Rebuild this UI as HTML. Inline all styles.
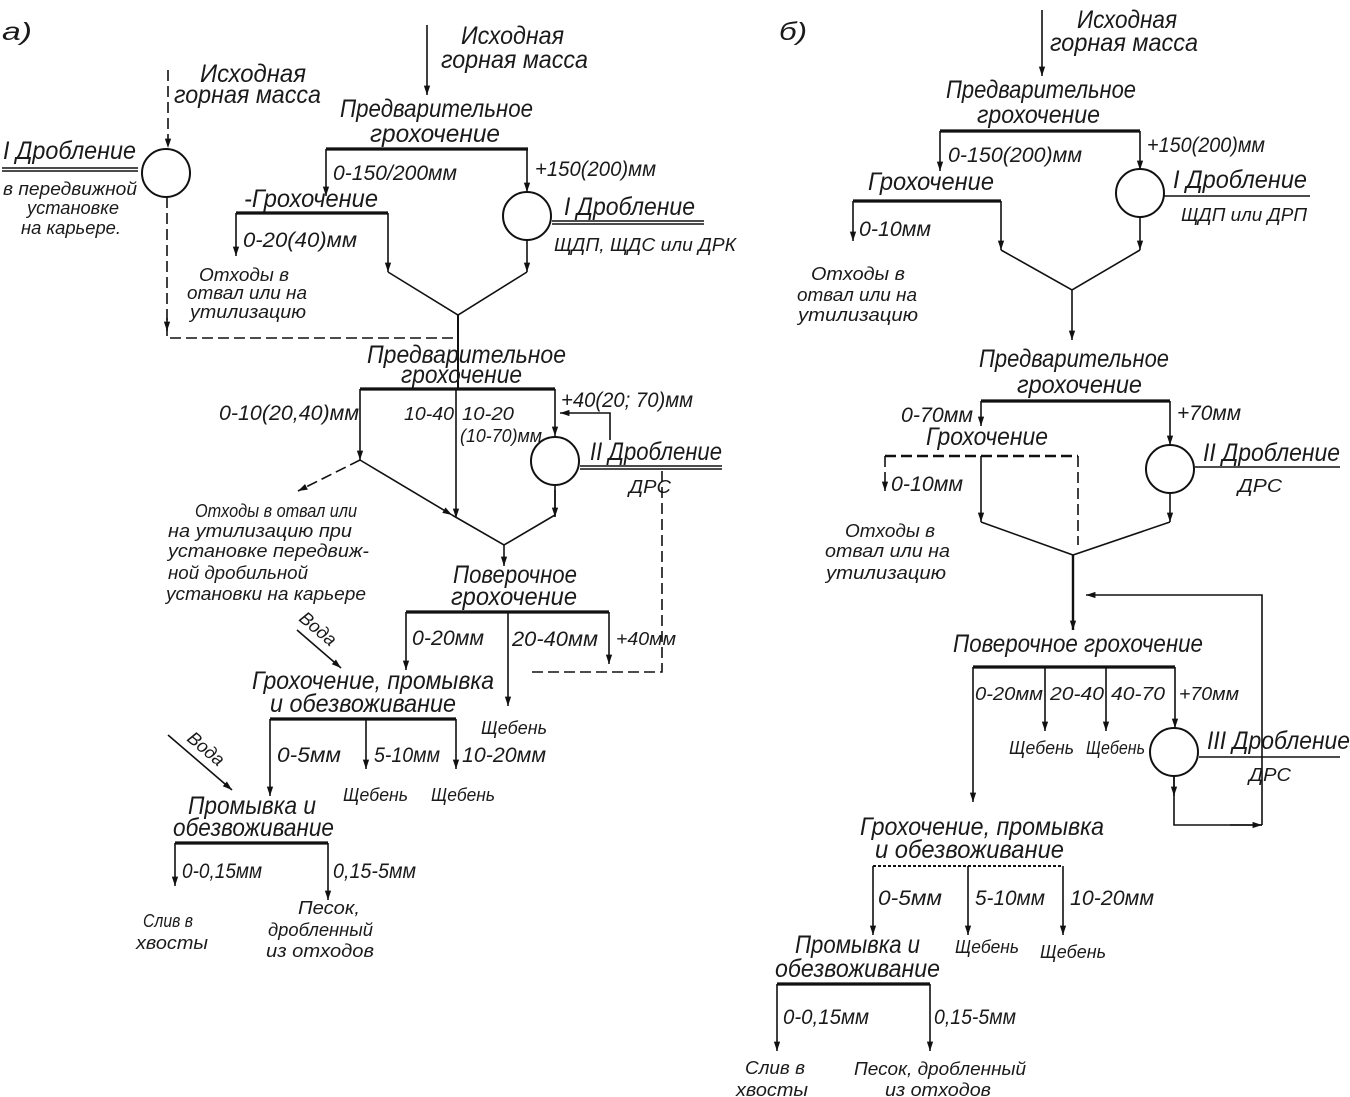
<!DOCTYPE html>
<html><head><meta charset="utf-8"><style>
html,body{margin:0;padding:0;background:#fff}
svg{display:block}
text{font-family:"Liberation Sans",sans-serif;font-style:italic;fill:#1a1a1a}
.l{font-size:25px}.m{font-size:21px}.s{font-size:18.5px}
line,polyline{stroke:#111;fill:none;stroke-width:1.6}
.b{stroke-width:3.2}.d{stroke-dasharray:11 5}.a{marker-end:url(#a)}
circle{fill:#fff;stroke:#111;stroke-width:2}
</style></head><body>
<svg width="1350" height="1097" viewBox="0 0 1350 1097" xmlns="http://www.w3.org/2000/svg">
<defs><marker id="a" markerUnits="userSpaceOnUse" markerWidth="11" markerHeight="11" refX="6" refY="7" orient="auto" viewBox="0 0 14 14" overflow="visible"><path d="M-6 3 L6 7 L-6 11 Z" fill="#111"/></marker></defs>

<!-- A -->
<text x="2" y="40" class="l" textLength="30" lengthAdjust="spacingAndGlyphs">а)</text>
<line x1="168" y1="70" x2="168" y2="148" class="d a"/>
<circle cx="166" cy="173" r="24"/>
<polyline points="167,197 167,338 458,338" class="d"/>
<line x1="167" y1="318" x2="167" y2="331" class="a"/>
<line x1="2" y1="168" x2="138" y2="168"/><line x1="2" y1="171" x2="138" y2="171"/>
<text x="200" y="82" class="l" textLength="106" lengthAdjust="spacingAndGlyphs">Исходная</text>
<text x="174" y="103" class="l" textLength="147" lengthAdjust="spacingAndGlyphs">горная масса</text>
<text x="3" y="159" class="l" textLength="133" lengthAdjust="spacingAndGlyphs">I Дробление</text>
<text x="3" y="195" class="s" textLength="134" lengthAdjust="spacingAndGlyphs">в передвижной</text>
<text x="27" y="214" class="s" textLength="92" lengthAdjust="spacingAndGlyphs">установке</text>
<text x="21" y="234" class="s" textLength="100" lengthAdjust="spacingAndGlyphs">на карьере.</text>

<line x1="427" y1="25" x2="427" y2="95" class="a"/>
<text x="461" y="44" class="l" textLength="103" lengthAdjust="spacingAndGlyphs">Исходная</text>
<text x="441" y="68" class="l" textLength="147" lengthAdjust="spacingAndGlyphs">горная масса</text>
<text x="340" y="117" class="l" textLength="193" lengthAdjust="spacingAndGlyphs">Предварительное</text>
<text x="370" y="142" class="l" textLength="130" lengthAdjust="spacingAndGlyphs">грохочение</text>
<line x1="326" y1="149" x2="528" y2="149" class="b"/>
<line x1="326" y1="149" x2="326" y2="196" class="a"/>
<line x1="527" y1="149" x2="527" y2="192" class="a"/>
<circle cx="527" cy="216" r="24"/>
<text x="333" y="180" class="m" textLength="124" lengthAdjust="spacingAndGlyphs">0-150/200мм</text>
<text x="535" y="176" class="m" textLength="121" lengthAdjust="spacingAndGlyphs">+150(200)мм</text>
<text x="244" y="207" class="l" textLength="134" lengthAdjust="spacingAndGlyphs">-Грохочение</text>
<line x1="236" y1="213" x2="388" y2="213" class="b"/>
<line x1="236" y1="213" x2="236" y2="256" class="a"/>
<text x="243" y="247" class="m" textLength="114" lengthAdjust="spacingAndGlyphs">0-20(40)мм</text>
<text x="564" y="215" class="l" textLength="131" lengthAdjust="spacingAndGlyphs">I Дробление</text>
<line x1="552" y1="221" x2="704" y2="221"/><line x1="552" y1="224" x2="704" y2="224"/>
<text x="554" y="251" class="s" textLength="182" lengthAdjust="spacingAndGlyphs">ЩДП, ЩДС или ДРК</text>
<text x="199" y="281" class="s" textLength="90" lengthAdjust="spacingAndGlyphs">Отходы в</text>
<text x="187" y="299" class="s" textLength="120" lengthAdjust="spacingAndGlyphs">отвал или на</text>
<text x="190" y="318" class="s" textLength="116" lengthAdjust="spacingAndGlyphs">утилизацию</text>
<line x1="388" y1="213" x2="388" y2="272" class="a"/>
<line x1="527" y1="240" x2="527" y2="272" class="a"/>
<polyline points="388,272 458,315 527,272"/>
<line x1="458" y1="315" x2="458" y2="388" style="stroke-width:2"/>
<text x="367" y="363" class="l" textLength="199" lengthAdjust="spacingAndGlyphs">Предварительное</text>
<text x="401" y="383" class="l" textLength="121" lengthAdjust="spacingAndGlyphs">грохочение</text>
<line x1="360" y1="389" x2="555" y2="389" class="b"/>
<line x1="360" y1="389" x2="360" y2="460" class="a"/>
<line x1="456" y1="389" x2="456" y2="518" class="a"/>
<line x1="555" y1="389" x2="555" y2="436" class="a"/>
<circle cx="555" cy="461" r="24"/>
<polyline points="610,440 610,413 560,413" class="a"/>
<text x="219" y="420" class="m" textLength="140" lengthAdjust="spacingAndGlyphs">0-10(20,40)мм</text>
<text x="404" y="420" class="s" textLength="50" lengthAdjust="spacingAndGlyphs">10-40</text>
<text x="462" y="420" class="s" textLength="52" lengthAdjust="spacingAndGlyphs">10-20</text>
<text x="460" y="442" class="s" textLength="82" lengthAdjust="spacingAndGlyphs">(10-70)мм</text>
<text x="561" y="407" class="m" textLength="132" lengthAdjust="spacingAndGlyphs">+40(20; 70)мм</text>
<text x="590" y="460" class="l" textLength="132" lengthAdjust="spacingAndGlyphs">II Дробление</text>
<line x1="580" y1="466" x2="722" y2="466"/><line x1="580" y1="469" x2="722" y2="469"/>
<text x="629" y="493" class="s" textLength="42" lengthAdjust="spacingAndGlyphs">ДРС</text>
<polyline points="662,471 662,672 527,672" class="d"/>
<polyline points="452,515 504,545 555,515 555,486"/>
<line x1="555" y1="490" x2="555" y2="517" class="a"/>
<line x1="360" y1="460" x2="452" y2="515" class="a"/>
<line x1="360" y1="460" x2="298" y2="491" class="d a"/>
<line x1="504" y1="545" x2="504" y2="566" class="a"/>
<text x="195" y="517" class="s" textLength="162" lengthAdjust="spacingAndGlyphs">Отходы в отвал или</text>
<text x="168" y="537" class="s" textLength="184" lengthAdjust="spacingAndGlyphs">на утилизацию при</text>
<text x="168" y="557" class="s" textLength="201" lengthAdjust="spacingAndGlyphs">установке передвиж-</text>
<text x="168" y="579" class="s" textLength="140" lengthAdjust="spacingAndGlyphs">ной дробильной</text>
<text x="166" y="600" class="s" textLength="200" lengthAdjust="spacingAndGlyphs">установки на карьере</text>
<text x="453" y="583" class="l" textLength="124" lengthAdjust="spacingAndGlyphs">Поверочное</text>
<text x="451" y="605" class="l" textLength="126" lengthAdjust="spacingAndGlyphs">грохочение</text>
<line x1="406" y1="612" x2="609" y2="612" class="b"/>
<line x1="406" y1="612" x2="406" y2="670" class="a"/>
<line x1="508" y1="612" x2="508" y2="706" class="a"/>
<line x1="609" y1="612" x2="609" y2="664" class="a"/>
<text x="412" y="645" class="m" textLength="72" lengthAdjust="spacingAndGlyphs">0-20мм</text>
<text x="512" y="646" class="m" textLength="86" lengthAdjust="spacingAndGlyphs">20-40мм</text>
<text x="616" y="645" class="s" textLength="60" lengthAdjust="spacingAndGlyphs">+40мм</text>
<line x1="297" y1="630" x2="341" y2="668" class="a"/>
<text transform="translate(298,620) rotate(40)" class="s" textLength="42" lengthAdjust="spacingAndGlyphs">Вода</text>
<text x="252" y="689" class="l" textLength="242" lengthAdjust="spacingAndGlyphs">Грохочение, промывка</text>
<text x="270" y="712" class="l" textLength="186" lengthAdjust="spacingAndGlyphs">и обезвоживание</text>
<line x1="270" y1="719" x2="456" y2="719" class="b"/>
<line x1="270" y1="719" x2="270" y2="796" class="a"/>
<line x1="366" y1="719" x2="366" y2="769" class="a"/>
<line x1="456" y1="719" x2="456" y2="769" class="a"/>
<text x="277" y="762" class="m" textLength="64" lengthAdjust="spacingAndGlyphs">0-5мм</text>
<text x="374" y="762" class="m" textLength="66" lengthAdjust="spacingAndGlyphs">5-10мм</text>
<text x="462" y="762" class="m" textLength="84" lengthAdjust="spacingAndGlyphs">10-20мм</text>
<text x="481" y="734" class="s" textLength="66" lengthAdjust="spacingAndGlyphs">Щебень</text>
<text x="343" y="801" class="s" textLength="65" lengthAdjust="spacingAndGlyphs">Щебень</text>
<text x="431" y="801" class="s" textLength="64" lengthAdjust="spacingAndGlyphs">Щебень</text>
<line x1="168" y1="735" x2="232" y2="790" class="a"/>
<text transform="translate(186,740) rotate(40)" class="s" textLength="42" lengthAdjust="spacingAndGlyphs">Вода</text>
<text x="188" y="814" class="l" textLength="128" lengthAdjust="spacingAndGlyphs">Промывка и</text>
<text x="173" y="836" class="l" textLength="161" lengthAdjust="spacingAndGlyphs">обезвоживание</text>
<line x1="175" y1="843" x2="328" y2="843" class="b"/>
<line x1="175" y1="843" x2="175" y2="886" class="a"/>
<line x1="328" y1="843" x2="328" y2="900" class="a"/>
<text x="182" y="878" class="m" textLength="80" lengthAdjust="spacingAndGlyphs">0-0,15мм</text>
<text x="333" y="878" class="m" textLength="83" lengthAdjust="spacingAndGlyphs">0,15-5мм</text>
<text x="143" y="927" class="s" textLength="50" lengthAdjust="spacingAndGlyphs">Слив в</text>
<text x="136" y="949" class="s" textLength="72" lengthAdjust="spacingAndGlyphs">хвосты</text>
<text x="298" y="914" class="s" textLength="62" lengthAdjust="spacingAndGlyphs">Песок,</text>
<text x="268" y="936" class="s" textLength="105" lengthAdjust="spacingAndGlyphs">дробленный</text>
<text x="266" y="957" class="s" textLength="108" lengthAdjust="spacingAndGlyphs">из отходов</text>

<!-- B -->
<text x="779" y="40" class="l" textLength="28" lengthAdjust="spacingAndGlyphs">б)</text>
<line x1="1042" y1="10" x2="1042" y2="76" class="a"/>
<text x="1077" y="28" class="l" textLength="100" lengthAdjust="spacingAndGlyphs">Исходная</text>
<text x="1050" y="51" class="l" textLength="148" lengthAdjust="spacingAndGlyphs">горная масса</text>
<text x="946" y="98" class="l" textLength="190" lengthAdjust="spacingAndGlyphs">Предварительное</text>
<text x="977" y="123" class="l" textLength="123" lengthAdjust="spacingAndGlyphs">грохочение</text>
<line x1="940" y1="131" x2="1140" y2="131" class="b"/>
<line x1="940" y1="131" x2="940" y2="171" class="a"/>
<line x1="1140" y1="131" x2="1140" y2="170" class="a"/>
<circle cx="1140" cy="193" r="24"/>
<text x="948" y="162" class="m" textLength="134" lengthAdjust="spacingAndGlyphs">0-150(200)мм</text>
<text x="1147" y="152" class="m" textLength="118" lengthAdjust="spacingAndGlyphs">+150(200)мм</text>
<text x="868" y="190" class="l" textLength="126" lengthAdjust="spacingAndGlyphs">Грохочение</text>
<line x1="853" y1="201" x2="1001" y2="201" class="b"/>
<line x1="853" y1="201" x2="853" y2="241" class="a"/>
<line x1="1001" y1="201" x2="1001" y2="250" class="a"/>
<text x="1173" y="188" class="l" textLength="134" lengthAdjust="spacingAndGlyphs">I Дробление</text>
<line x1="1164" y1="196" x2="1310" y2="196"/>
<text x="1181" y="221" class="s" textLength="126" lengthAdjust="spacingAndGlyphs">ЩДП или ДРП</text>
<text x="859" y="236" class="m" textLength="72" lengthAdjust="spacingAndGlyphs">0-10мм</text>
<line x1="1140" y1="217" x2="1140" y2="250" class="a"/>
<polyline points="1001,250 1072,290 1140,250"/>
<line x1="1072" y1="290" x2="1072" y2="340" class="a"/>
<text x="811" y="280" class="s" textLength="94" lengthAdjust="spacingAndGlyphs">Отходы в</text>
<text x="797" y="301" class="s" textLength="120" lengthAdjust="spacingAndGlyphs">отвал или на</text>
<text x="798" y="321" class="s" textLength="120" lengthAdjust="spacingAndGlyphs">утилизацию</text>
<text x="979" y="367" class="l" textLength="190" lengthAdjust="spacingAndGlyphs">Предварительное</text>
<text x="1017" y="393" class="l" textLength="125" lengthAdjust="spacingAndGlyphs">грохочение</text>
<line x1="981" y1="401" x2="1170" y2="401" class="b"/>
<line x1="981" y1="401" x2="981" y2="426" class="a"/>
<line x1="1170" y1="401" x2="1170" y2="445" class="a"/>
<circle cx="1170" cy="469" r="24"/>
<text x="901" y="422" class="m" textLength="72" lengthAdjust="spacingAndGlyphs">0-70мм</text>
<text x="1177" y="420" class="m" textLength="64" lengthAdjust="spacingAndGlyphs">+70мм</text>
<text x="926" y="445" class="l" textLength="122" lengthAdjust="spacingAndGlyphs">Грохочение</text>
<line x1="885" y1="456" x2="1078" y2="456" class="d" style="stroke-width:2.6"/>
<line x1="885" y1="456" x2="885" y2="491" class="d a"/>
<line x1="981" y1="456" x2="981" y2="522" class="a"/>
<line x1="1078" y1="456" x2="1078" y2="545" class="d"/>
<text x="1203" y="461" class="l" textLength="137" lengthAdjust="spacingAndGlyphs">II Дробление</text>
<line x1="1195" y1="467" x2="1340" y2="467"/>
<text x="1238" y="492" class="s" textLength="44" lengthAdjust="spacingAndGlyphs">ДРС</text>
<text x="891" y="491" class="m" textLength="72" lengthAdjust="spacingAndGlyphs">0-10мм</text>
<line x1="1170" y1="493" x2="1170" y2="522" class="a"/>
<polyline points="981,522 1073,555 1170,522"/>
<line x1="1073" y1="555" x2="1073" y2="630" class="a" style="stroke-width:2.4"/>
<text x="845" y="537" class="s" textLength="90" lengthAdjust="spacingAndGlyphs">Отходы в</text>
<text x="825" y="557" class="s" textLength="125" lengthAdjust="spacingAndGlyphs">отвал или на</text>
<text x="826" y="579" class="s" textLength="120" lengthAdjust="spacingAndGlyphs">утилизацию</text>
<polyline points="1262,825 1262,595 1086,595" class="a"/>
<text x="953" y="652" class="l" textLength="250" lengthAdjust="spacingAndGlyphs">Поверочное грохочение</text>
<line x1="973" y1="667" x2="1175" y2="667" class="b"/>
<line x1="973" y1="667" x2="973" y2="802" class="a"/>
<line x1="1045" y1="667" x2="1045" y2="731" class="a"/>
<line x1="1106" y1="667" x2="1106" y2="731" class="a"/>
<line x1="1175" y1="667" x2="1175" y2="728" class="a"/>
<circle cx="1174" cy="752" r="24"/>
<text x="975" y="700" class="s" textLength="68" lengthAdjust="spacingAndGlyphs">0-20мм</text>
<text x="1050" y="700" class="s" textLength="54" lengthAdjust="spacingAndGlyphs">20-40</text>
<text x="1111" y="700" class="s" textLength="54" lengthAdjust="spacingAndGlyphs">40-70</text>
<text x="1179" y="700" class="s" textLength="60" lengthAdjust="spacingAndGlyphs">+70мм</text>
<text x="1009" y="754" class="s" textLength="65" lengthAdjust="spacingAndGlyphs">Щебень</text>
<text x="1086" y="754" class="s" textLength="59" lengthAdjust="spacingAndGlyphs">Щебень</text>
<text x="1207" y="749" class="l" textLength="143" lengthAdjust="spacingAndGlyphs">III Дробление</text>
<line x1="1199" y1="757" x2="1340" y2="757"/>
<text x="1249" y="781" class="s" textLength="42" lengthAdjust="spacingAndGlyphs">ДРС</text>
<polyline points="1174,776 1174,825 1262,825"/>
<line x1="1174" y1="776" x2="1174" y2="796" class="a"/>
<line x1="1230" y1="825" x2="1262" y2="825" class="a"/>
<text x="860" y="835" class="l" textLength="244" lengthAdjust="spacingAndGlyphs">Грохочение, промывка</text>
<text x="875" y="858" class="l" textLength="189" lengthAdjust="spacingAndGlyphs">и обезвоживание</text>
<line x1="873" y1="866" x2="1063" y2="866" style="stroke-width:2;stroke-dasharray:3 2"/>
<line x1="873" y1="866" x2="873" y2="935" class="a"/>
<line x1="968" y1="866" x2="968" y2="935" class="a"/>
<line x1="1063" y1="866" x2="1063" y2="935" class="a"/>
<text x="878" y="905" class="m" textLength="64" lengthAdjust="spacingAndGlyphs">0-5мм</text>
<text x="975" y="905" class="m" textLength="70" lengthAdjust="spacingAndGlyphs">5-10мм</text>
<text x="1070" y="905" class="m" textLength="84" lengthAdjust="spacingAndGlyphs">10-20мм</text>
<text x="955" y="953" class="s" textLength="64" lengthAdjust="spacingAndGlyphs">Щебень</text>
<text x="1040" y="958" class="s" textLength="66" lengthAdjust="spacingAndGlyphs">Щебень</text>
<text x="795" y="953" class="l" textLength="125" lengthAdjust="spacingAndGlyphs">Промывка и</text>
<text x="775" y="977" class="l" textLength="165" lengthAdjust="spacingAndGlyphs">обезвоживание</text>
<line x1="777" y1="984" x2="930" y2="984" class="b"/>
<line x1="777" y1="984" x2="777" y2="1051" class="a"/>
<line x1="930" y1="984" x2="930" y2="1051" class="a"/>
<text x="783" y="1024" class="m" textLength="86" lengthAdjust="spacingAndGlyphs">0-0,15мм</text>
<text x="934" y="1024" class="m" textLength="82" lengthAdjust="spacingAndGlyphs">0,15-5мм</text>
<text x="745" y="1074" class="s" textLength="60" lengthAdjust="spacingAndGlyphs">Слив в</text>
<text x="736" y="1096" class="s" textLength="72" lengthAdjust="spacingAndGlyphs">хвосты</text>
<text x="854" y="1075" class="s" textLength="172" lengthAdjust="spacingAndGlyphs">Песок, дробленный</text>
<text x="885" y="1096" class="s" textLength="106" lengthAdjust="spacingAndGlyphs">из отходов</text>
</svg>
</body></html>
